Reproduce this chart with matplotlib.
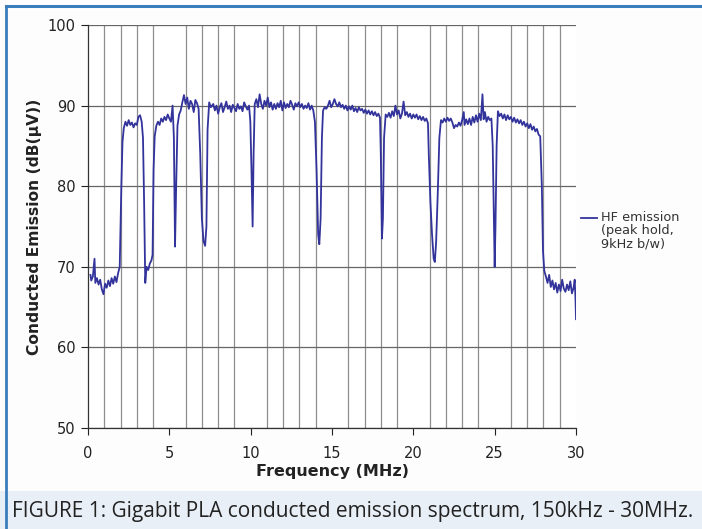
import matplotlib.pyplot as plt
from matplotlib.lines import Line2D
from matplotlib.patches import Rectangle

# HF emission trace (peak hold)
freq_mhz = [
    0.15, 0.2, 0.3, 0.4, 0.45, 0.55, 0.65, 0.75, 0.85, 0.95, 1.05, 1.15, 1.25, 1.35, 1.45, 1.55, 1.65, 1.75, 1.85, 1.95,
    2.05, 2.12, 2.2, 2.3, 2.4, 2.5, 2.6, 2.7, 2.8, 2.9, 3.0, 3.1, 3.2, 3.3, 3.38, 3.45, 3.52, 3.6, 3.7, 3.8, 3.9, 3.97,
    4.03, 4.1, 4.2, 4.3, 4.4, 4.5, 4.6, 4.7, 4.8, 4.9, 5.0, 5.1, 5.2, 5.28, 5.35, 5.42, 5.5, 5.6, 5.7, 5.8, 5.9,
    6.0, 6.1, 6.2, 6.3, 6.4, 6.5, 6.6, 6.7, 6.8, 6.9, 7.0, 7.1, 7.2, 7.28, 7.35, 7.45, 7.55, 7.7, 7.8, 7.9,
    8.0, 8.1, 8.2, 8.3, 8.4, 8.5, 8.6, 8.7, 8.8, 8.9, 9.0, 9.1, 9.2, 9.3, 9.4, 9.5, 9.6, 9.7, 9.8, 9.9, 9.98,
    10.05, 10.12, 10.18, 10.25, 10.35, 10.45, 10.55, 10.65, 10.75, 10.85, 10.95, 11.05, 11.15, 11.25, 11.35, 11.45,
    11.55, 11.65, 11.75, 11.85, 11.95, 12.05, 12.15, 12.25, 12.35, 12.45, 12.55, 12.65, 12.75, 12.85, 12.95,
    13.05, 13.15, 13.25, 13.35, 13.45, 13.55, 13.65, 13.75, 13.85, 13.95, 14.05, 14.15, 14.22, 14.3, 14.38,
    14.45, 14.55, 14.65, 14.75, 14.85, 14.95, 15.05, 15.15, 15.25, 15.35, 15.45, 15.55, 15.65, 15.75, 15.85, 15.95,
    16.05, 16.15, 16.25, 16.35, 16.45, 16.55, 16.65, 16.75, 16.85, 16.95, 17.05, 17.15, 17.25, 17.35, 17.45,
    17.55, 17.65, 17.75, 17.85, 17.95, 18.0, 18.07, 18.13, 18.2, 18.3, 18.4, 18.5, 18.6, 18.7, 18.8, 18.9,
    19.0, 19.1, 19.2, 19.3, 19.4, 19.5, 19.6, 19.7, 19.8, 19.9, 20.0, 20.1, 20.2, 20.3, 20.4, 20.5, 20.6, 20.7,
    20.8, 20.9, 20.95, 21.05, 21.15, 21.25, 21.32, 21.4, 21.5, 21.6, 21.7, 21.8, 21.9, 22.0, 22.1, 22.2, 22.3,
    22.4, 22.5, 22.6, 22.7, 22.8, 22.9, 23.0, 23.1, 23.15, 23.25, 23.35, 23.45, 23.55, 23.65, 23.75, 23.85, 23.95,
    24.05, 24.15, 24.25, 24.32, 24.4, 24.5, 24.6, 24.7, 24.8, 24.88, 24.95, 25.0, 25.05, 25.12, 25.2, 25.3, 25.4,
    25.5, 25.6, 25.7, 25.8, 25.9, 26.0, 26.1, 26.2, 26.3, 26.4, 26.5, 26.6, 26.7, 26.8, 26.9, 27.0, 27.1, 27.2,
    27.3, 27.4, 27.5, 27.6, 27.7, 27.8, 27.9, 27.97, 28.05, 28.15, 28.25, 28.35, 28.45, 28.55, 28.65, 28.75,
    28.85, 28.95, 29.05, 29.15, 29.25, 29.35, 29.45, 29.55, 29.65, 29.75, 29.85, 29.92, 29.97, 30.0,
]
emission_db = [
    69.0, 68.3, 68.8, 71.0, 68.0, 68.6, 67.8, 68.4, 67.2, 66.6, 67.9, 67.4, 68.3, 67.6, 68.6, 67.9, 68.8, 68.1, 69.2, 70.0,
    80.0, 85.5, 87.2, 88.0, 87.5, 88.2, 87.6, 87.9, 87.3, 87.8, 87.6, 88.6, 88.8, 88.0, 86.0, 78.0, 68.0, 70.0, 69.6, 70.4, 70.8, 71.5,
    82.0, 86.2, 87.5, 88.0, 87.6, 88.4, 88.0, 88.6, 88.2, 88.9, 88.4, 88.0, 90.0, 86.0, 72.5, 80.0, 87.5, 88.9, 89.4, 90.4, 91.3,
    90.2, 91.0, 89.6, 90.6, 90.2, 89.2, 90.7, 90.3, 89.6, 84.0, 76.0, 73.2, 72.6, 75.0, 87.0, 90.4, 89.8, 90.2, 89.4, 90.0,
    89.0, 89.8, 90.3, 89.2, 89.8, 90.5, 89.6, 90.0, 89.2, 90.1, 89.7, 89.3, 90.2, 89.6, 89.9, 89.3, 90.4, 89.9, 89.5, 90.0, 88.0,
    82.0, 75.0, 84.0, 90.2, 90.8, 89.8, 91.4, 90.2, 89.6, 90.6, 90.0, 91.0, 89.8, 90.4, 89.5, 90.2,
    89.6, 90.3, 89.8, 90.6, 89.4, 90.4, 89.7, 90.2, 89.8, 90.6, 90.1, 89.5, 90.3, 89.9, 90.4,
    89.8, 90.2, 89.6, 90.0, 89.7, 90.3, 89.5, 90.0, 89.4, 88.0, 82.0, 74.0, 72.8, 76.0, 86.0,
    89.4, 89.8, 89.6, 90.0, 90.6, 89.8, 90.2, 90.8, 90.2, 89.9, 90.4, 89.8, 90.1, 89.6, 90.0, 89.4,
    89.9, 89.5, 90.0, 89.3, 89.7, 89.2, 89.8, 89.4, 89.6, 89.1, 89.5, 89.0, 89.4, 88.9, 89.3,
    88.8, 89.2, 88.7, 89.0, 88.5, 84.0, 73.5, 76.0, 86.0, 88.9, 88.6, 89.1, 88.5, 89.3, 88.7, 90.0,
    88.9, 89.4, 88.4, 89.0, 90.5, 88.8, 89.2, 88.6, 89.0, 88.4, 88.9, 88.5, 88.9, 88.3, 88.7, 88.2, 88.6, 88.1,
    88.4, 87.8, 84.0, 78.0, 74.0, 71.0, 70.6, 73.0, 79.0, 86.0, 88.2, 87.9, 88.4, 88.0, 88.5, 88.1, 88.4,
    87.9, 87.2, 87.6, 87.4, 87.9, 87.5, 88.2, 89.2, 87.6, 88.3, 87.7, 88.4, 87.6, 88.6, 87.9, 88.8, 88.0,
    89.0, 88.2, 91.4, 88.3, 89.2, 88.0, 88.6, 88.2, 88.4, 85.0, 76.0, 70.0, 75.0, 85.0, 89.3, 88.7, 89.0,
    88.4, 88.9, 88.2, 88.8, 88.3, 88.6, 88.0, 88.5, 87.9, 88.3, 87.8, 88.2, 87.6, 88.0, 87.4, 87.8, 87.2, 87.7,
    87.0, 87.4, 86.8, 87.1, 86.4, 86.2, 80.0, 72.0, 69.5, 68.8, 68.0, 69.0, 67.5, 68.3, 67.2, 68.0,
    66.8, 67.8, 67.0, 68.4, 67.3, 66.9, 67.8, 67.1, 68.2, 66.7, 67.4, 68.4, 66.0, 63.5,
]
x_ticks = [0, 5, 10, 15, 20, 25, 30]
y_ticks = [50, 60, 70, 80, 90, 100]
legend_label = "HF emission\n(peak hold,\n9kHz b/w)"
caption = "FIGURE 1: Gigabit PLA conducted emission spectrum, 150kHz - 30MHz."

fig = plt.figure(figsize=(7.02, 5.29), dpi=100, facecolor="#fdfdfd")

# caption band and blue frame
fig.patches.append(Rectangle((0, 0), 1, 38 / 529, transform=fig.transFigure,
                             facecolor="#e9eff6", edgecolor="none", zorder=0))
fig.add_artist(Line2D([6 / 702, 6 / 702], [0, 1 - 6 / 529], color="#3a7dbd", lw=2))
fig.add_artist(Line2D([6 / 702, 1], [1 - 6 / 529, 1 - 6 / 529], color="#3a7dbd", lw=2.2))

ax = fig.add_axes([88 / 702, 1 - 428 / 529, (576 - 88) / 702, (428 - 25) / 529])
ax.set_facecolor("white")
ax.plot(freq_mhz, emission_db, color="#33339c", lw=1.3, zorder=3)

ax.set_xlim(0, 30)
ax.set_ylim(50, 100)
ax.set_xticks(x_ticks)
ax.set_yticks(y_ticks)
ax.set_xticks(range(0, 31), minor=True)
ax.tick_params(axis="x", which="minor", length=0)
ax.tick_params(axis="both", which="major", direction="out", length=5, width=0.8,
               labelsize=10.5, colors="#222222", pad=4)
ax.tick_params(axis="x", which="major", pad=8)
ax.grid(True, axis="x", which="minor", color="#8e8e8e", lw=0.9, zorder=1)
ax.grid(True, axis="y", which="major", color="#666666", lw=0.9, zorder=1)
for side in ["top", "right"]:
    ax.spines[side].set_visible(False)
for side in ["left", "bottom"]:
    ax.spines[side].set_color("#333333")
    ax.spines[side].set_linewidth(0.9)

for lab in ax.get_xticklabels() + ax.get_yticklabels():
    lab.set_family("DejaVu Sans")

ax.set_xlabel("Frequency (MHz)", fontsize=11.5, fontweight="bold", family="DejaVu Sans",
              color="#222222", labelpad=2)
ax.set_ylabel("Conducted Emission (dB(\u00b5V))", fontsize=11.2, fontweight="bold",
              family="DejaVu Sans", color="#222222", labelpad=4)

# legend drawn beside the axes
ly = 1 - 218 / 529
fig.add_artist(Line2D([581 / 702, 597 / 702], [ly, ly], color="#33339c", lw=1.3))
fig.text(601 / 702, ly + 0.013, legend_label, fontsize=9.3, family="DejaVu Sans",
         color="#333333", va="top", ha="left", linespacing=1.0)

fig.text(12 / 702, 1 - 511 / 529, caption, fontsize=15, family="Open Sans",
         color="#222222", va="center", ha="left")

fig.savefig("out.png", dpi=100, facecolor=fig.get_facecolor())
